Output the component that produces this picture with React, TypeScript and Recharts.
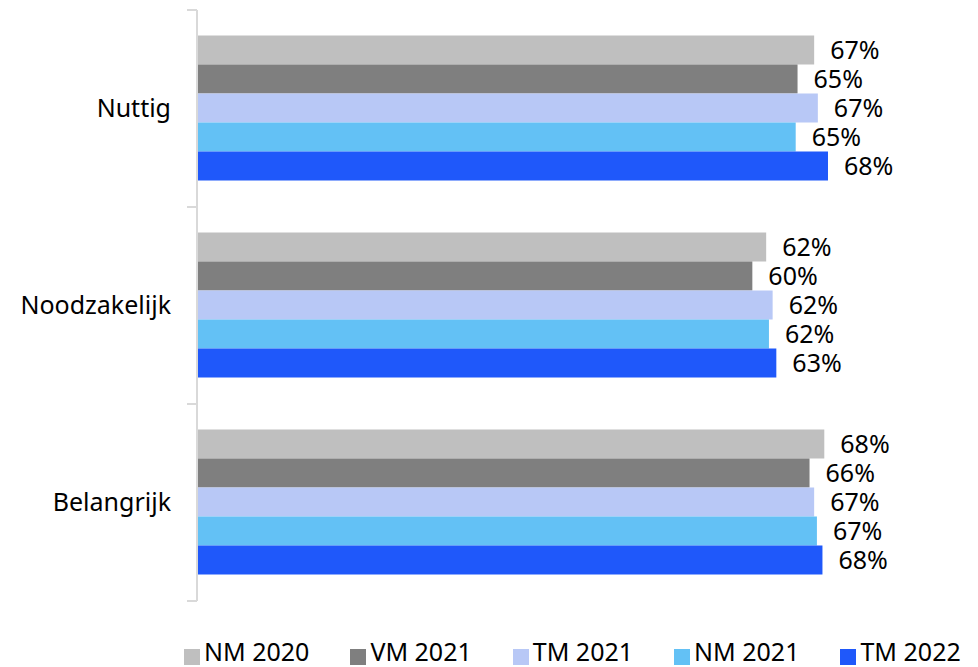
import React from "react";
import {
  BarChart,
  Bar,
  XAxis,
  YAxis,
  Legend,
  LabelList,
} from "recharts";

// categorieën en reeksen (percentages)
const categories = ["Nuttig", "Noodzakelijk", "Belangrijk"];
const nm2020 = [66.9, 61.7, 68.0];
const vm2021 = [65.1, 60.2, 66.4];
const tm2021 = [67.3, 62.4, 66.9];
const nm2021 = [64.9, 62.0, 67.2];
const tm2022 = [68.4, 62.8, 67.8];

const seriesNames = ["NM 2020", "VM 2021", "TM 2021", "NM 2021", "TM 2022"];
const seriesColors = ["#BFBFBF", "#7F7F7F", "#B8C8F6", "#63C1F5", "#1F58FA"];

const data = categories.map((c, i) => ({
  name: c,
  s0: nm2020[i],
  s1: vm2021[i],
  s2: tm2021[i],
  s3: nm2021[i],
  s4: tm2022[i],
}));

const FONT = "'Noto Sans', sans-serif";
const AXIS = "#D9D9D9";

// categorielabel + tickstreepjes op de grenzen van de band (Excel-stijl)
function CatTick(props: any) {
  const { x, y, payload } = props;
  const half = payload?.offset ?? 0;
  return (
    <g>
      <line x1={x + 16} x2={x + 26} y1={y - half} y2={y - half} stroke={AXIS} strokeWidth={2} />
      <line x1={x + 16} x2={x + 26} y1={y + half} y2={y + half} stroke={AXIS} strokeWidth={2} />
      <text x={x} y={y} dy="0.35em" textAnchor="end" fontSize={25} fill="#000" fontFamily={FONT}>
        {payload.value}
      </text>
    </g>
  );
}

export default function App() {
  return (
    <div style={{ position: "absolute", left: 0, top: 0, fontFamily: FONT }}>
      <BarChart
        width={978}
        height={667}
        data={data}
        layout="vertical"
        margin={{ top: 10, right: 43, bottom: 32, left: 0 }}
        barCategoryGap="13%"
        barGap={0}
      >
        <XAxis type="number" domain={[0, 80]} hide />
        <YAxis
          type="category"
          dataKey="name"
          width={197}
          tickLine={false}
          tickSize={10}
          tickMargin={16}
          axisLine={{ stroke: AXIS, strokeWidth: 2 }}
          tick={<CatTick />}
        />
        <Legend
          verticalAlign="bottom"
          align="left"
          iconType="square"
          iconSize={16}
          itemSorter={(item: any) => seriesNames.indexOf(item.value)}
          wrapperStyle={{ left: 184, top: 634, width: 900, whiteSpace: "nowrap" }}
          formatter={(v) => (
            <span style={{ color: "#000", fontSize: 25, fontFamily: FONT, marginRight: 31 }}>{v}</span>
          )}
        />
        {seriesNames.map((n, i) => (
          <Bar
            key={n}
            dataKey={`s${i}`}
            name={n}
            fill={seriesColors[i]}
            isAnimationActive={false}
          >
            <LabelList
              dataKey={`s${i}`}
              position="right"
              offset={16}
              formatter={(v: number) => `${Math.round(v)}%`}
              style={{ fontSize: 25, fill: "#000", fontFamily: FONT }}
            />
          </Bar>
        ))}
      </BarChart>
    </div>
  );
}
